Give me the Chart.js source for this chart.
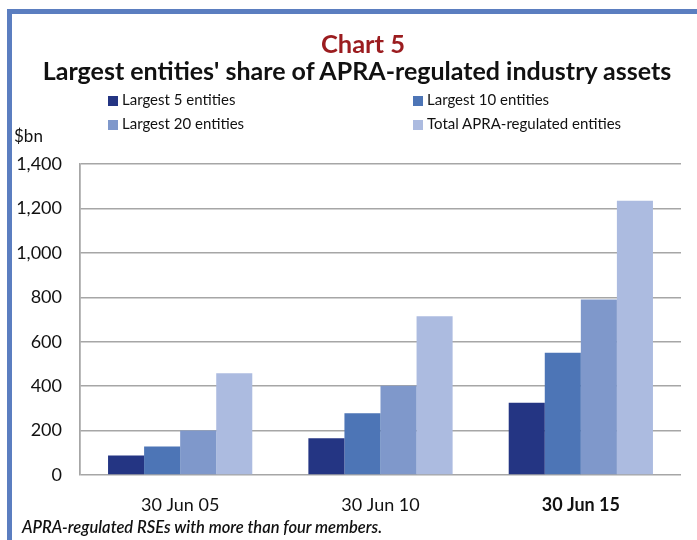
<!DOCTYPE html>
<html>
<head>
<meta charset="utf-8">
<script src="https://cdn.jsdelivr.net/npm/chart.js@4/dist/chart.umd.min.js"></script>
<style>
  html, body { margin: 0; padding: 0; background: #fff; }
  #wrap { position: relative; width: 697px; height: 540px; overflow: hidden; background: #fff; font-family: Lato, "Open Sans", sans-serif; }
  #frame { position: absolute; left: 7px; top: 9px; width: 700px; height: 540px; border-top: 5px solid #5b7ec0; border-left: 5px solid #5b7ec0; }
  #c { position: absolute; left: 0; top: 0; }
  .t { position: absolute; white-space: nowrap; color: #111; }
  #chartno { left: 0; width: 726px; top: 28px; text-align: center; color: #9b1c1f; font-weight: 700; font-size: 25.5px; }
  #title { left: 0; width: 714px; top: 55px; text-align: center; font-weight: 700; font-size: 25px; }
  #unit { left: 14px; top: 125px; font-size: 17px; }
  #note { left: 22px; top: 517px; font-size: 16.5px; font-style: italic; font-weight: 600; }
  .lg { position: absolute; font-size: 15px; white-space: nowrap; color: #111; }
  .lg span.box { display: inline-block; width: 10px; height: 10px; margin-right: 4px; vertical-align: -1px; }
</style>
</head>
<body>
<div id="wrap">
  <div id="frame"></div>
  <canvas id="c" width="697" height="540"></canvas>
  <div class="t" id="chartno">Chart 5</div>
  <div class="t" id="title">Largest entities' share of APRA-regulated industry assets</div>
  <div class="t" id="unit">$bn</div>
  <div id="legend"></div>
  <div class="t" id="note">APRA-regulated RSEs with more than four members.</div>
</div>
<script>
const categories = ["30 Jun 05", "30 Jun 10", "30 Jun 15"];
const seriesNames = ["Largest 5 entities", "Largest 10 entities", "Largest 20 entities", "Total APRA-regulated entities"];
const largest5 = [88, 165, 325];
const largest10 = [128, 278, 550];
const largest20 = [200, 402, 790];
const totalAPRA = [458, 715, 1235];
const yTicks = [0, 200, 400, 600, 800, 1000, 1200, 1400];

const colors = ["#243583", "#4d75b6", "#7f98cb", "#acbbe0"];
const seriesData = [largest5, largest10, largest20, totalAPRA];

// HTML legend (2 x 2 grid)
const legendPos = [[108, 90], [413, 90], [108, 114], [413, 114]];
const lgEl = document.getElementById('legend');
seriesNames.forEach((name, i) => {
  const d = document.createElement('div');
  d.className = 'lg';
  d.style.left = legendPos[i][0] + 'px';
  d.style.top = legendPos[i][1] + 'px';
  const b = document.createElement('span');
  b.className = 'box';
  b.style.background = colors[i];
  d.appendChild(b);
  d.appendChild(document.createTextNode(name));
  lgEl.appendChild(d);
});

new Chart(document.getElementById('c'), {
  type: 'bar',
  data: {
    labels: categories,
    datasets: seriesNames.map((n, i) => ({
      label: n,
      data: seriesData[i],
      backgroundColor: colors[i],
      borderWidth: 0,
      barPercentage: 1.0,
      categoryPercentage: 0.72
    }))
  },
  options: {
    responsive: false,
    animation: false,
    devicePixelRatio: 1,
    layout: { padding: { top: 164, right: 16, left: 0, bottom: 0 } },
    plugins: { legend: { display: false }, title: { display: false }, tooltip: { enabled: false } },
    scales: {
      x: {
        afterFit: (s) => { s.height = 65; },
        grid: {
          offset: true,
          drawTicks: false,
          color: (ctx) => (ctx.index === 0 || ctx.index === categories.length) ? '#a6a6a6' : 'rgba(0,0,0,0)',
          lineWidth: 1.5
        },
        border: { display: false },
        ticks: {
          padding: 19,
          color: '#111',
          font: (ctx) => ({ family: 'Lato, "Open Sans", sans-serif', size: 18, weight: ctx.index === 2 ? '700' : '400' })
        }
      },
      y: {
        min: 0,
        max: 1400,
        afterFit: (s) => { s.width = 80; },
        afterBuildTicks: (s) => { s.ticks = yTicks.map(v => ({ value: v })); },
        grid: { color: '#a6a6a6', lineWidth: 1.5, drawTicks: false },
        border: { display: true, color: '#a6a6a6', width: 1.5 },
        ticks: {
          padding: 18,
          color: '#111',
          font: { family: 'Lato, "Open Sans", sans-serif', size: 18 },
          callback: (v) => v.toLocaleString('en-US')
        }
      }
    }
  }
});
</script>
</body>
</html>
